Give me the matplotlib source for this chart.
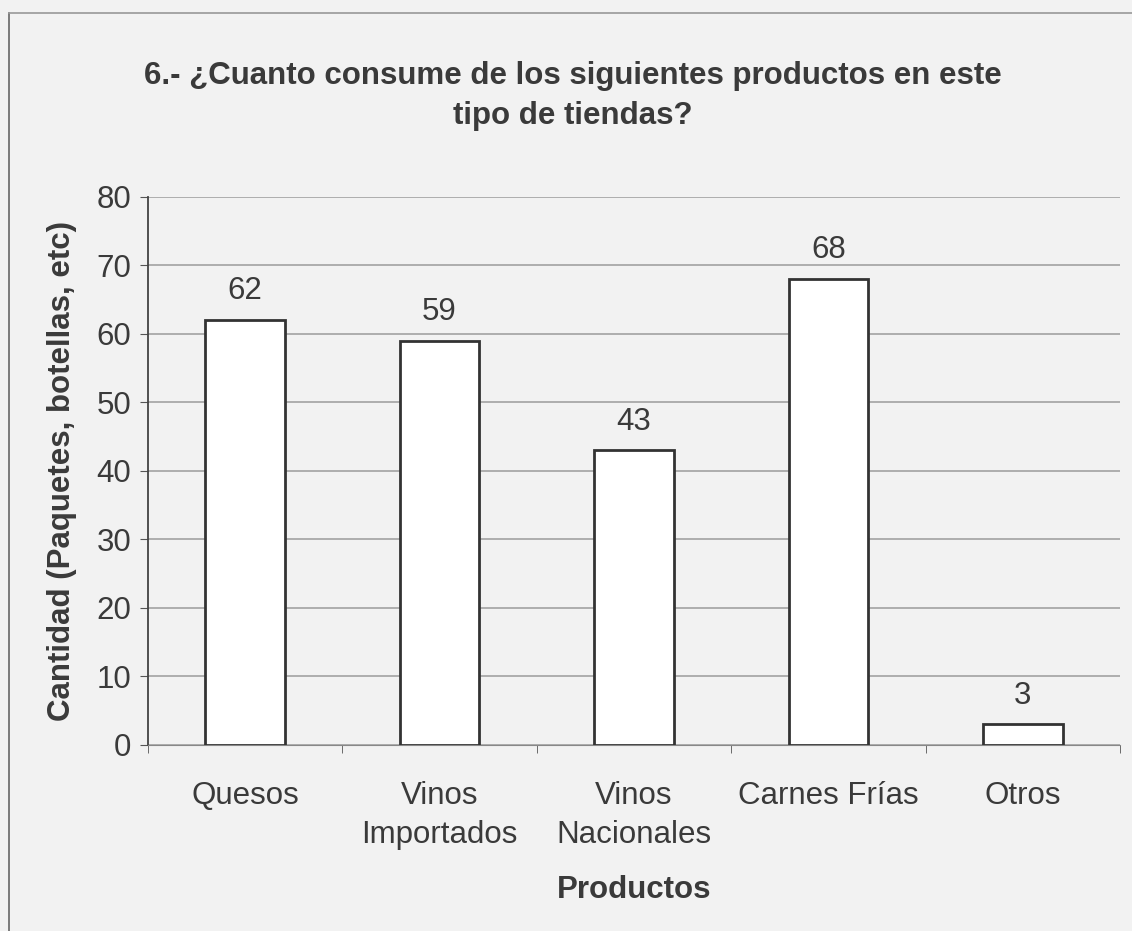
import numpy as np
import matplotlib.pyplot as plt
from matplotlib.lines import Line2D

# datos de la grafica
productos = ['Quesos', 'Vinos\nImportados', 'Vinos\nNacionales', 'Carnes Frías', 'Otros']
cantidad = [62, 59, 43, 68, 3]
yticks = [0, 10, 20, 30, 40, 50, 60, 70, 80]

plt.rcParams['font.family'] = ['Liberation Sans', 'DejaVu Sans']
txt = '#3a3a3a'
bg = '#f2f2f2'

fig = plt.figure(figsize=(11.32, 9.31), dpi=100)
fig.patch.set_facecolor(bg)
ax = fig.add_axes([0.1307, 0.1998, 0.8587, 0.5886])
ax.set_facecolor(bg)

x = np.arange(len(productos))
bars = ax.bar(x, cantidad, width=0.41, color='white', edgecolor='#333333', linewidth=2, zorder=3)

for xi, v in zip(x, cantidad):
    ax.annotate(str(v), (xi, v), xytext=(0, 10), textcoords='offset points',
                ha='center', va='bottom', fontsize=22.5, color=txt)

ax.set_xlim(-0.5, len(productos) - 0.5)
ax.set_ylim(0, 80)
ax.set_yticks(yticks)
ax.yaxis.grid(True, color='#a8a8a8', linewidth=1.3, zorder=0)
ax.set_axisbelow(True)

ax.set_xticks(x)
ax.set_xticklabels(productos, fontsize=22.5, color=txt, linespacing=1.4)
ax.set_xticks(np.arange(-0.5, len(productos)), minor=True)
ax.tick_params(axis='x', which='major', length=0, pad=26)
ax.tick_params(axis='x', which='minor', length=6, color='#555555')
ax.tick_params(axis='y', labelsize=22.5, labelcolor=txt, length=6, color='#555555', pad=6)

for s in ['top', 'right']:
    ax.spines[s].set_visible(False)
ax.spines['left'].set_color('#444444')
ax.spines['bottom'].set_color('#888888')
ax.spines['left'].set_linewidth(1.3)

ax.set_ylabel('Cantidad (Paquetes, botellas, etc)', fontsize=22.5, fontweight='bold', color=txt, labelpad=14)
ax.set_xlabel('Productos', fontsize=22.5, fontweight='bold', color=txt, labelpad=18)

fig.text(0.506, 0.897, '6.- ¿Cuanto consume de los siguientes productos en este\ntipo de tiendas?',
         ha='center', va='center', fontsize=22.5, fontweight='bold', color=txt, linespacing=1.45)

# marco
fig.lines.append(Line2D([9/1132, 9/1132], [0, 1 - 13/931], transform=fig.transFigure, color='#666666', lw=1.2))
fig.lines.append(Line2D([9/1132, 1], [1 - 13/931, 1 - 13/931], transform=fig.transFigure, color='#999999', lw=1.2))

plt.savefig('out.png', dpi=100, facecolor=bg)
